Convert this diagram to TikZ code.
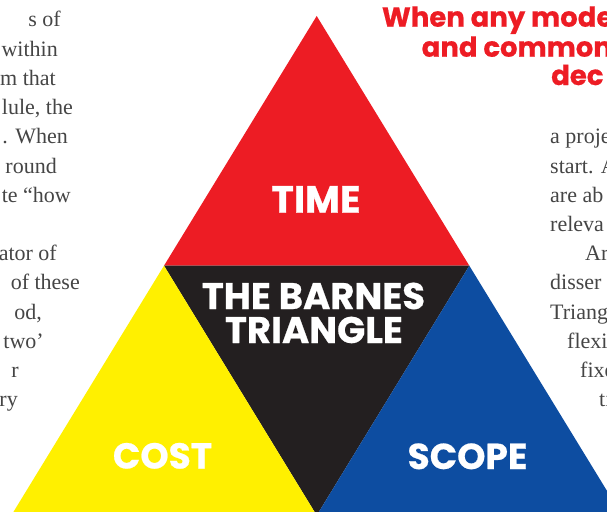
\documentclass[tikz,border=0pt]{standalone}
\usepackage{fontspec}
\setmainfont{Liberation Serif}
\newfontfamily\popfont{Poppins}[BoldFeatures={FakeBold=0.6}]
\definecolor{trired}{HTML}{ED1C24}
\definecolor{triblack}{HTML}{231F20}
\definecolor{triyellow}{HTML}{FFF000}
\definecolor{triblue}{HTML}{0D4DA1}
\definecolor{bodygray}{HTML}{454545}
\tikzset{
  bodyr/.style={anchor=base east, inner sep=0pt, text=bodygray, font=\fontsize{22}{24}\selectfont},
  bodyl/.style={anchor=base west, inner sep=0pt, text=bodygray, font=\fontsize{22}{24}\selectfont},
  headtxt/.style={anchor=base west, inner sep=0pt, text=trired, font=\popfont\bfseries\fontsize{27.5}{30}\selectfont},
  bigtxt/.style={anchor=base, inner sep=0pt, text=white, font=\popfont\bfseries\fontsize{38}{40}\selectfont},
  midtxt/.style={anchor=base, inner sep=0pt, text=white, font=\popfont\bfseries\fontsize{37}{34}\selectfont},
  cornertxt/.style={anchor=base, inner sep=0pt, text=white, font=\popfont\bfseries\fontsize{36}{36}\selectfont},
}
\begin{document}
\begin{tikzpicture}[x=1pt,y=-1pt]
\useasboundingbox (0,0) rectangle (607,511);
% triangle corners
\coordinate (A) at (316.7,16);
\coordinate (ML) at (164,265.7);
\coordinate (MR) at (469.3,265.7);
\coordinate (BL) at (11.3,515.4);
\coordinate (BM) at (316.7,515.4);
\coordinate (BR) at (622,515.4);
\fill[trired] (A) -- (MR) -- (ML) -- cycle;
\fill[triblack] (ML) -- (MR) -- (BM) -- cycle;
\fill[triyellow] (ML) -- (BM) -- (BL) -- cycle;
\fill[triblue] (MR) -- (BR) -- (BM) -- cycle;
% labels
\node[bigtxt] (time) at (316,212.7) {TIME};
\node[midtxt] (barnes1) at (313.5,309) {THE BARNES};
\node[midtxt] (barnes2) at (314,343) {TRIANGLE};
\node[cornertxt] (cost) at (162.5,468.5) {COST};
\node[cornertxt] (scope) at (467.5,469) {SCOPE};
% heading
\node[headtxt] (h1) at (381.7,26.7) {When any mode};
\node[headtxt] (h2) at (421.5,56.7) {and common};
\node[headtxt] (h3) at (551,85) {dec};
% left column
\node[bodyr] (l1) at (61,27) {s of};
\node[bodyr] (l2) at (58,56.2) {within};
\node[bodyr] (l3) at (56,85.4) {m that};
\node[bodyr] (l4) at (73,114.6) {lule, the};
\node[bodyr] (l5) at (68,143.8) {. When};
\node[bodyr] (l6) at (57,173) {round};
\node[bodyr] (l7) at (71,202.2) {te “how};
\node[bodyr] (l8) at (57,260.6) {ator of};
\node[bodyr] (l9) at (80,289.8) {of these};
\node[bodyr] (l10) at (42,319) {od,};
\node[bodyr] (l11) at (44,348.2) {two’};
\node[bodyr] (l12) at (19,377.4) {r};
\node[bodyr] (l13) at (18,406.6) {ry};
% right column
\node[bodyl] (r1) at (550,143.8) {a proje};
\node[bodyl] (r2) at (550,173) {start. A};
\node[bodyl] (r3) at (550,202.2) {are ab};
\node[bodyl] (r4) at (550,231.4) {releva};
\node[bodyl] (r5) at (585,260.6) {Ar};
\node[bodyl] (r6) at (550,289.8) {disser};
\node[bodyl] (r7) at (550,319) {Triang};
\node[bodyl] (r8) at (567,348.2) {flexil};
\node[bodyl] (r9) at (580,377.4) {fixe};
\node[bodyl] (r10) at (599,406.6) {ti};
\end{tikzpicture}
\end{document}
